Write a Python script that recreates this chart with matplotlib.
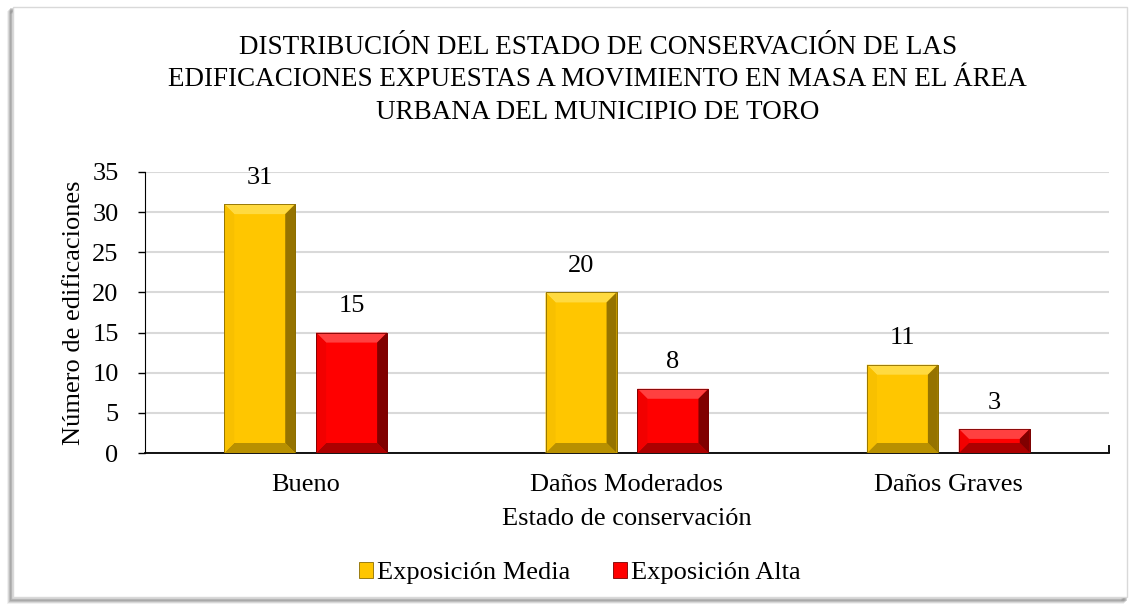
import matplotlib.pyplot as plt
from matplotlib.patches import Polygon, Rectangle, Patch

plt.rcParams['font.family'] = ['Liberation Serif', 'DejaVu Serif']

categorias = ["Bueno", "Daños Moderados", "Daños Graves"]
series = ["Exposición Media", "Exposición Alta"]
media = [31, 20, 11]
alta = [15, 8, 3]

titulo = ("DISTRIBUCIÓN DEL ESTADO DE CONSERVACIÓN DE LAS\n"
          "EDIFICACIONES EXPUESTAS A MOVIMIENTO EN MASA EN EL ÁREA\n"
          "URBANA DEL MUNICIPIO DE TORO")

W, H = 1130, 605
fig = plt.figure(figsize=(W / 100, H / 100), dpi=100)

# marco del grafico con sombra
for i, a in enumerate([0.10, 0.16, 0.22, 0.30]):
    off = 4 - i
    fig.patches.append(Rectangle(((12 - off) / W, (7 - off) / H), 1114 / W, 590 / H,
                                 transform=fig.transFigure, facecolor='none',
                                 edgecolor=(0.35, 0.35, 0.35, a), lw=2.0, zorder=-2))
fig.patches.append(Rectangle((13 / W, 8 / H), 1114 / W, 590 / H,
                             transform=fig.transFigure, facecolor='white',
                             edgecolor='#d9d9d9', lw=1.0, zorder=-1))

ax = fig.add_axes([145 / W, (H - 453) / H, 964 / W, 281 / H])
ax.set_facecolor('none')

x = range(len(categorias))
ancho = 0.221
desp = 0.143
colores = {
    "Exposición Media": dict(face="#FFC600", top="#FFDA40", left="#F8C000",
                             right="#957300", bottom="#B89000", edge="#8a6c00"),
    "Exposición Alta": dict(face="#FF0000", top="#FF4040", left="#F20000",
                            right="#800000", bottom="#AC0000", edge="#780000"),
}

b1 = ax.bar([i - desp for i in x], media, width=ancho, color=colores[series[0]]["face"],
            edgecolor=colores[series[0]]["edge"], linewidth=0.6, zorder=3, label=series[0])
b2 = ax.bar([i + desp for i in x], alta, width=ancho, color=colores[series[1]]["face"],
            edgecolor=colores[series[1]]["edge"], linewidth=0.6, zorder=3, label=series[1])

ax.set_xlim(-0.5, 2.5)
ax.set_ylim(0, 35)

# biselado de las barras
px_x = 3 / 964
px_y = 35 / 281
for cont, nombre in [(b1, series[0]), (b2, series[1])]:
    c = colores[nombre]
    for r in cont.patches:
        x0, y0 = r.get_x(), r.get_y()
        x1, y1 = x0 + r.get_width(), y0 + r.get_height()
        dx = 10 * px_x
        dy = min(10 * px_y, (y1 - y0) / 2)
        piezas = [
            ([(x0, y1), (x1, y1), (x1 - dx, y1 - dy), (x0 + dx, y1 - dy)], c["top"]),
            ([(x0, y0), (x1, y0), (x1 - dx, y0 + dy), (x0 + dx, y0 + dy)], c["bottom"]),
            ([(x0, y0), (x0 + dx, y0 + dy), (x0 + dx, y1 - dy), (x0, y1)], c["left"]),
            ([(x1, y0), (x1 - dx, y0 + dy), (x1 - dx, y1 - dy), (x1, y1)], c["right"]),
        ]
        for pts, col in piezas:
            ax.add_patch(Polygon(pts, closed=True, facecolor=col, edgecolor='none', zorder=4))
        ax.add_patch(Rectangle((x0, y0), x1 - x0, y1 - y0, facecolor='none',
                               edgecolor=c["edge"], lw=0.6, zorder=5))
    ax.bar_label(cont, padding=11, fontsize=19)

ax.set_yticks(range(0, 36, 5))
ax.yaxis.grid(True, color='#d9d9d9', lw=1.5, zorder=0)
ax.set_axisbelow(True)
ax.set_xticks(list(x))
ax.set_xticklabels(categorias, fontsize=19)
# marca al final del eje x
ax.set_xticks([2.5], minor=True)
ax.tick_params(axis='x', which='minor', direction='in', length=6, width=1.3, color='black')
ax.tick_params(axis='x', which='major', length=0, pad=15)
ax.tick_params(axis='y', labelsize=19, length=5, width=1, pad=14)
for s in ['top', 'right']:
    ax.spines[s].set_visible(False)
ax.spines['left'].set_color('black')
ax.spines['bottom'].set_color('black')
ax.spines['bottom'].set_linewidth(1.3)

ax.set_ylabel("Número de edificaciones", fontsize=19, labelpad=5)
ax.set_xlabel("Estado de conservación", fontsize=19, labelpad=9)

fig.text(0.529, 1 - 80 / H, titulo, ha='center', va='center', fontsize=19.5,
         linespacing=1.38)

handles = [Patch(facecolor=colores[s]["face"], edgecolor=colores[s]["edge"], lw=0.6)
           for s in series]
fig.legend(handles, series, loc='center', bbox_to_anchor=(0.513, 1 - 573 / H),
           ncol=2, frameon=False, fontsize=19, handlelength=0.55, handleheight=0.55,
           handletextpad=0.15, columnspacing=1.6)

fig.savefig("out.png", dpi=100)
